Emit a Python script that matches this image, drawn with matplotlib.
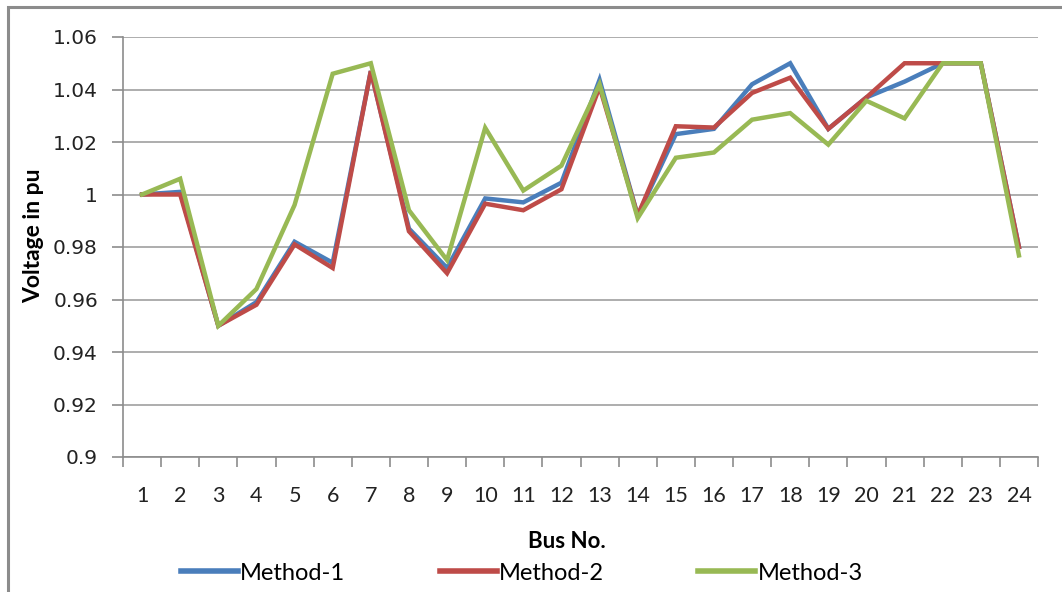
import matplotlib
matplotlib.use("Agg")
import matplotlib.pyplot as plt
from matplotlib.patches import Rectangle
import numpy as np

# bus voltages (pu) from the three load-flow methods
buses = list(range(1, 25))
method_1 = [1.000, 1.001, 0.950, 0.959, 0.982, 0.974, 1.047, 0.987, 0.972, 0.9985,
            0.997, 1.0045, 1.0437, 0.992, 1.023, 1.025, 1.042, 1.050, 1.025, 1.037,
            1.043, 1.050, 1.050, 0.980]
method_2 = [1.000, 1.000, 0.950, 0.958, 0.981, 0.972, 1.047, 0.986, 0.970, 0.9965,
            0.994, 1.002, 1.041, 0.992, 1.026, 1.0255, 1.0387, 1.0445, 1.025, 1.037,
            1.050, 1.050, 1.050, 0.980]
method_3 = [1.000, 1.006, 0.950, 0.964, 0.996, 1.046, 1.050, 0.994, 0.975, 1.0254,
            1.0015, 1.011, 1.042, 0.991, 1.014, 1.016, 1.0285, 1.031, 1.019, 1.0357,
            1.029, 1.050, 1.050, 0.9768]
series_names = ["Method-1", "Method-2", "Method-3"]
colors = ["#4a7ebb", "#be4b48", "#98b954"]
y_ticks = [0.9, 0.92, 0.94, 0.96, 0.98, 1.0, 1.02, 1.04, 1.06]
y_tick_labels = ["0.9", "0.92", "0.94", "0.96", "0.98", "1", "1.02", "1.04", "1.06"]

W, H = 1062, 592
fig = plt.figure(figsize=(W / 100, H / 100), dpi=100)
fig.patches.append(Rectangle((8 / W, -0.1), 1.2, 1 - 7 / H + 0.1, transform=fig.transFigure,
                             fill=False, edgecolor="#8c8c8c", linewidth=2.2))

ax = fig.add_axes([123 / W, 1 - 457 / H, (1038 - 123) / W, (457 - 37) / H])

for vals, name, c in zip([method_1, method_2, method_3], series_names, colors):
    ax.plot(buses, vals, color=c, linewidth=3.2, label=name, solid_joinstyle="miter")

ax.set_xlim(0.5, 24.5)
ax.set_ylim(0.9, 1.06)
ax.set_yticks(y_ticks)
ax.set_yticklabels(y_tick_labels, fontfamily="DejaVu Sans", fontsize=14.5, color="#222222")
ax.yaxis.grid(True, color="#a0a0a0", linewidth=1.2)
ax.set_axisbelow(True)

# category labels under each bus, tick marks between categories
ax.set_xticks(buses)
ax.set_xticklabels([str(b) for b in buses], fontfamily="Lato", fontsize=15.5, color="#222222")
ax.set_xticks(np.arange(0.5, 25, 1), minor=True)
ax.tick_params(axis="x", which="major", length=0, pad=21)
ax.tick_params(axis="x", which="minor", length=7, color="#8c8c8c", width=1.2, direction="out")
ax.tick_params(axis="y", length=8, color="#8c8c8c", width=1.2, direction="out", pad=10)

for s in ["top", "right"]:
    ax.spines[s].set_visible(False)
for s in ["left", "bottom"]:
    ax.spines[s].set_color("#8c8c8c")
    ax.spines[s].set_linewidth(1.2)

fig.text(567 / W, 1 - 542 / H, "Bus No.", ha="center", va="center",
         fontfamily="Lato", fontweight="bold", fontsize=16)
fig.text(34 / W, 1 - 236 / H, "Voltage in pu", ha="center", va="center", rotation=90,
         fontfamily="Lato", fontweight="bold", fontsize=16.5)

leg = fig.legend(loc="center", bbox_to_anchor=(522 / W, 1 - 573 / H), ncol=3, frameon=False,
                 prop={"family": "Lato", "size": 17}, handlelength=2.4, handletextpad=0.1,
                 columnspacing=4.0, borderaxespad=0)
for line in leg.get_lines():
    line.set_linewidth(4)

fig.savefig("out.png", dpi=100)
